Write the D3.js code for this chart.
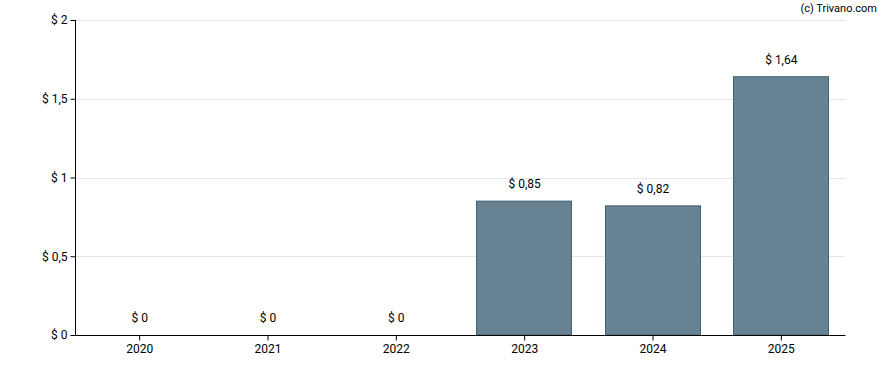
<!DOCTYPE html>
<html><head><meta charset="utf-8">
<script src="https://cdn.jsdelivr.net/npm/d3@7"></script>
<style>body{margin:0;background:#fff}svg{display:block;font-family:Roboto,Arial,sans-serif}</style>
</head><body><svg id="c" width="888" height="370"></svg>
<script>
const categories = ["2020","2021","2022","2023","2024","2025"];
const values = [0,0,0,0.85,0.82,1.64];
const valueLabels = ["$ 0","$ 0","$ 0","$ 0,85","$ 0,82","$ 1,64"];
const yTicks = [0,0.5,1,1.5,2];
const yTickLabels = ["$ 0","$ 0,5","$ 1","$ 1,5","$ 2"];

const svg = d3.select("#c");
const m = {l:75.5, r:42.5, t:20, b:35};
const W = 888, H = 370;
const x = d3.scaleBand().domain(categories).range([m.l, W-m.r]).paddingInner(0.26).paddingOuter(0.13);
const y = d3.scaleLinear().domain([0,2]).range([H-m.b, m.t]);

// grid
svg.append("g").selectAll("line").data(yTicks.filter(d=>d>0)).join("line")
  .attr("x1", m.l).attr("x2", W-m.r)
  .attr("y1", d=>Math.round(y(d))+0.5).attr("y2", d=>Math.round(y(d))+0.5)
  .attr("stroke","#e6e6e6").attr("stroke-width",1);

// bars
svg.append("g").selectAll("rect").data(values).join("rect")
  .attr("x",(d,i)=>Math.round(x(categories[i]))-0.5)
  .attr("y",d=>y(d))
  .attr("width",Math.round(x.bandwidth()))
  .attr("height",d=>y(0)-y(d))
  .attr("fill","#668293").attr("stroke","#40627a").attr("stroke-width",1)
  .style("display",d=>d>0?null:"none");

// value labels
svg.append("g").selectAll("text").data(values).join("text")
  .attr("x",(d,i)=>x(categories[i])+x.bandwidth()/2)
  .attr("y",d=>y(d)-13)
  .attr("text-anchor","middle").attr("font-size",12).attr("fill","#000")
  .text((d,i)=>valueLabels[i]);

// y axis
const ya = d3.axisLeft(y).tickValues(yTicks).tickFormat((d,i)=>yTickLabels[i]).tickSize(5).tickPadding(3);
const yg = svg.append("g").attr("transform",`translate(${m.l},0)`).call(ya);
yg.select(".domain").attr("stroke","#000").attr("d",`M-0,${y(2)}V${y(0)}`);
yg.selectAll("text").attr("font-size",12).attr("font-family","Roboto,Arial,sans-serif").attr("fill","#000");

// x axis
const xa = d3.axisBottom(x).tickSize(5).tickPadding(4);
const xg = svg.append("g").attr("transform",`translate(0,${Math.round(y(0))+0.5})`).call(xa);
xg.select(".domain").attr("stroke","#000").attr("d",`M${m.l},0H${W-m.r}`);
xg.selectAll("text").attr("font-size",12).attr("font-family","Roboto,Arial,sans-serif").attr("fill","#000");

// credit
svg.append("text").attr("x",877).attr("y",12).attr("text-anchor","end")
  .attr("font-size",11).attr("fill","#000").text("(c) Trivano.com");
</script></body></html>
